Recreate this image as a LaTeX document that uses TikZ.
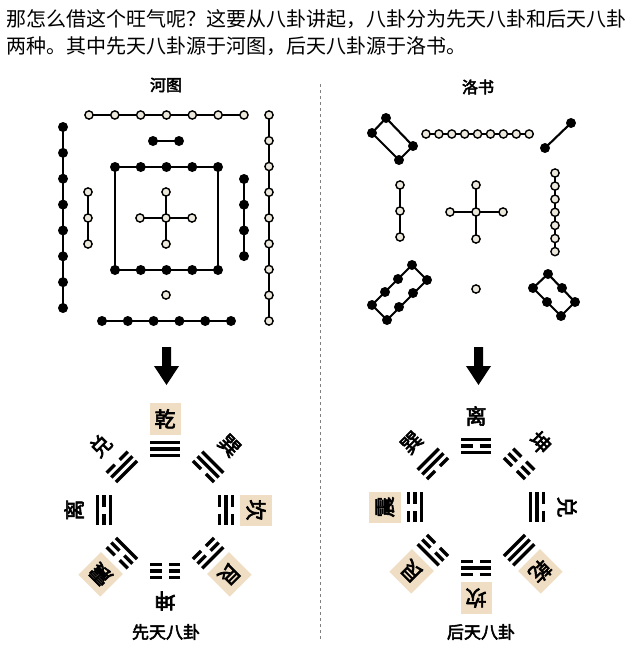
\documentclass[tikz,border=0pt]{standalone}
\usepackage{fontspec}
\newfontfamily\cjk{Noto Sans CJK SC}
\newfontfamily\cjkb[FakeBold=3]{Noto Sans CJK SC}
\definecolor{dotw}{HTML}{ECE8DC}
\definecolor{hlc}{HTML}{F0DEC4}
\tikzset{ln/.style={line width=2.1pt},
 yao/.style={line width=3.4pt},
 lab/.style={font=\cjkb\fontsize{21}{21}\selectfont,inner sep=1pt},
 hl/.style={fill=hlc,minimum width=31pt,minimum height=32pt},
 nohl/.style={}}
\newcommand\bdot[1]{\fill (#1) circle (5);}
\newcommand\wdot[1]{\filldraw[fill=dotw,line width=1.4pt] (#1) circle (4.1);}
\newcommand\yao[2]{\ifnum#1=1 \draw[yao] (-15,#2)--(15,#2);\else\draw[yao] (-15,#2)--(-3.5,#2) (3.5,#2)--(15,#2);\fi}
\newcommand\gua[7]{%
\begin{scope}[shift={#1},y=1pt]
 \begin{scope}[shift={(#2:61)},rotate=#2-90]
  \yao{#3}{-6.5}\yao{#4}{0}\yao{#5}{6.5}
 \end{scope}
 \node[lab,#7,rotate=#2-90] at (#2:91) {#6};
\end{scope}}
\begin{document}
\begin{tikzpicture}[x=1pt,y=-1pt]
\fill[white] (0,0) rectangle (640,656);
\useasboundingbox (0,0) rectangle (640,656);
% header
\node[anchor=west,inner sep=0,font=\cjk\fontsize{20}{20}\selectfont] (t1) at (6,19) {那怎么借这个旺气呢？这要从八卦讲起，八卦分为先天八卦和后天八卦};
\node[anchor=west,inner sep=0,font=\cjk\fontsize{20}{20}\selectfont] (t2) at (6,46) {两种。其中先天八卦源于河图，后天八卦源于洛书。};
\draw[dashed,gray,line width=1pt] (320,84)--(320,640);
\node[font=\cjkb\fontsize{16}{16}\selectfont] (h1) at (166,85) {河图};
\node[font=\cjkb\fontsize{16}{16}\selectfont] (h2) at (478,87) {洛书};
% ---- Hetu
\draw[ln] (89,115)--(244,115);
\foreach \i in {0,...,6} {\wdot{89+\i*25.83,115}}
\draw[ln] (269,115)--(269,321);
\foreach \i in {0,...,8} {\wdot{269,115+\i*25.75}}
\draw[ln] (63,127)--(63,308);
\foreach \i in {0,...,7} {\bdot{63,127+\i*25.86}}
\draw[ln] (102,321)--(231,321);
\foreach \i in {0,...,5} {\bdot{102+\i*25.8,321}}
\draw[ln] (153,141)--(179,141); \bdot{153,141}\bdot{179,141}
\draw[ln] (115,167) rectangle (218,270);
\foreach \i in {0,...,4} {\bdot{115+\i*25.75,167}\bdot{115+\i*25.75,270}}
\draw[ln] (88,192)--(88,244);
\foreach \i in {0,...,2} {\wdot{88,192+\i*26}}
\draw[ln] (244,179)--(244,256);
\foreach \i in {0,...,3} {\bdot{244,179+\i*25.7}}
\draw[ln] (166,192)--(166,244) (140,218)--(192,218);
\wdot{166,192}\wdot{166,244}\wdot{140,218}\wdot{192,218}\wdot{166,218}
\wdot{166,295}
% ---- Luoshu
\draw[ln] (386,118)--(413,146)--(399,160)--(372,133)--cycle;
\bdot{386,118}\bdot{413,146}\bdot{399,160}\bdot{372,133}
\draw[ln] (426,134)--(529,134);
\foreach \i in {0,...,8} {\wdot{426+\i*12.9,134}}
\draw[ln] (571,123)--(545,148); \bdot{571,123}\bdot{545,148}
\draw[ln] (400,185)--(400,237);
\wdot{400,185}\wdot{400,211}\wdot{400,237}
\draw[ln] (476,185)--(476,239) (450,212)--(503,212);
\wdot{476,185}\wdot{476,239}\wdot{450,212}\wdot{503,212}\wdot{476,212}
\draw[ln] (555,173)--(555,252);
\foreach \i in {0,...,6} {\wdot{555,173+\i*13.1}}
\wdot{476,289}
\draw[ln] (412,265)--(427,280)--(387,320)--(372,305)--cycle;
\foreach \p in {{412,265},{427,280},{398,279},{413,293},{385,292},{399,307},{372,305},{387,320}} {\bdot{\p}}
\draw[ln] (548,274)--(575,302)--(561,316)--(533,288)--cycle;
\foreach \p in {{548,274},{533,288},{562,288},{547,302},{575,302},{561,316}} {\bdot{\p}}
% arrows
\fill (162,347)--(171,347)--(171,366)--(179,366)--(166.5,385)--(154,366)--(162,366)--cycle;
\fill (474,347)--(483,347)--(483,366)--(491,366)--(478.5,385)--(466,366)--(474,366)--cycle;
% ---- Xiantian
\gua{(165,510)}{90}{1}{1}{1}{乾}{hl}
\gua{(165,510)}{135}{1}{1}{0}{兑}{nohl}
\gua{(165,510)}{180}{1}{0}{1}{离}{nohl}
\gua{(165,510)}{-135}{1}{0}{0}{震}{hl}
\gua{(165,510)}{45}{0}{1}{1}{巽}{nohl}
\gua{(165,510)}{0}{0}{1}{0}{坎}{hl}
\gua{(165,510)}{-45}{0}{0}{1}{艮}{hl}
\gua{(165,510)}{-90}{0}{0}{0}{坤}{nohl}
% ---- Houtian
\gua{(476,507)}{90}{1}{0}{1}{离}{nohl}
\gua{(476,507)}{45}{0}{0}{0}{坤}{nohl}
\gua{(476,507)}{0}{1}{1}{0}{兑}{nohl}
\gua{(476,507)}{-45}{1}{1}{1}{乾}{hl}
\gua{(476,507)}{-90}{0}{1}{0}{坎}{hl}
\gua{(476,507)}{-135}{0}{0}{1}{艮}{hl}
\gua{(476,507)}{180}{1}{0}{0}{震}{hl}
\gua{(476,507)}{135}{0}{1}{1}{巽}{nohl}
\node[font=\cjkb\fontsize{17}{17}\selectfont] (b1) at (166,632) {先天八卦};
\node[font=\cjkb\fontsize{17}{17}\selectfont] (b2) at (481,632) {后天八卦};
\end{tikzpicture}
\end{document}
